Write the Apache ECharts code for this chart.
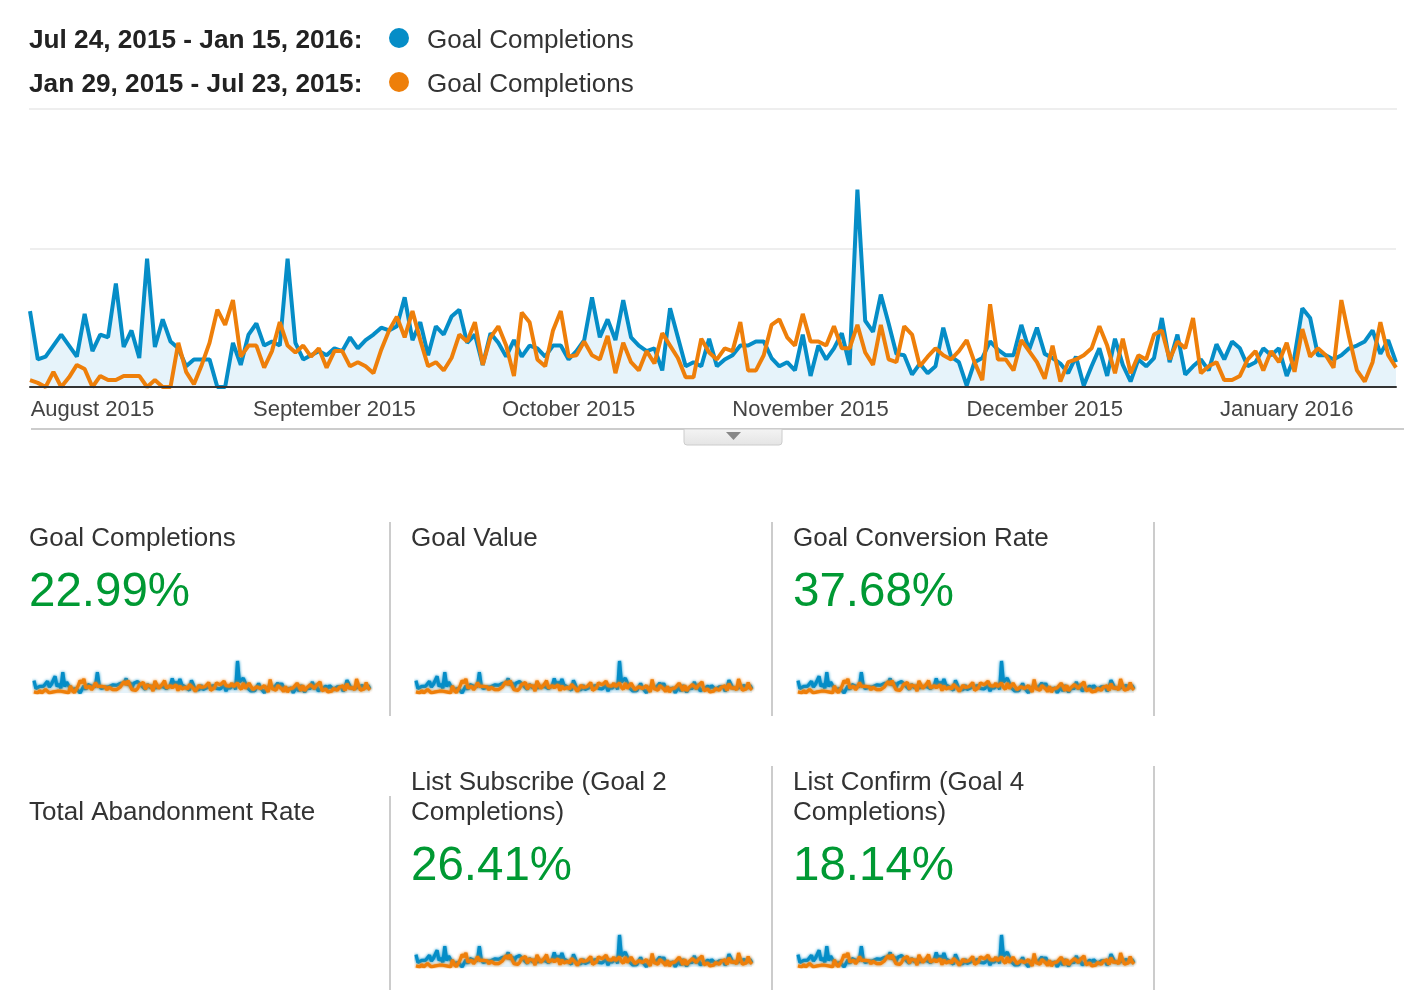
<!DOCTYPE html>
<html>
<head>
<meta charset="utf-8">
<title>Goal Completions</title>
<script src="https://cdn.jsdelivr.net/npm/echarts@6/dist/echarts.min.js"></script>
<style>
  html, body { margin: 0; padding: 0; background: #fff; }
  #chart { width: 1404px; height: 998px; }
</style>
</head>
<body>
<div id="chart"></div>
<script>
// daily values, Jul 24 2015 onwards
const current = [
  55, 20, 22, 30, 38, 30, 22, 53, 26, 38,
  36, 75, 29, 41, 21, 93, 29, 49, 33, 28,
  15, 20, 20, 20, 0, 0, 32, 16, 38, 46,
  30, 33, 30, 93, 32, 20, 23, 26, 23, 28,
  26, 36, 28, 34, 38, 43, 41, 44, 65, 34,
  47, 23, 44, 38, 51, 56, 32, 38, 16, 39,
  32, 22, 34, 22, 30, 28, 22, 30, 30, 20,
  26, 34, 65, 36, 49, 34, 63, 36, 30, 26,
  28, 12, 57, 36, 15, 18, 15, 35, 15, 20,
  23, 30, 30, 33, 33, 21, 15, 18, 12, 38,
  8, 30, 20, 28, 39, 16, 143, 48, 40, 67,
  46, 24, 23, 9, 17, 10, 15, 43, 22, 18,
  1, 18, 21, 33, 27, 23, 23, 45, 27, 43,
  24, 21, 17, 10, 22, 1, 15, 28, 8, 35,
  16, 4, 20, 15, 21, 50, 18, 38, 9, 15,
  20, 12, 31, 20, 33, 28, 15, 18, 28, 23,
  28, 8, 22, 57, 50, 23, 23, 20, 23, 28,
  30, 33, 41, 24, 34, 18
];
const previous = [
  5, 3, 0, 11, 0, 7, 16, 13, 0, 8,
  5, 5, 8, 8, 8, 0, 5, 0, 0, 32,
  11, 2, 16, 32, 56, 45, 63, 22, 30, 30,
  14, 26, 47, 30, 25, 30, 22, 28, 14, 26,
  26, 15, 18, 15, 10, 27, 41, 51, 36, 55,
  34, 15, 18, 12, 21, 38, 33, 47, 16, 36,
  44, 30, 8, 54, 47, 20, 15, 41, 55, 22,
  23, 33, 23, 20, 37, 10, 32, 18, 12, 26,
  17, 39, 30, 21, 7, 7, 35, 25, 20, 28,
  26, 47, 12, 12, 23, 45, 49, 36, 30, 53,
  33, 33, 30, 44, 28, 28, 45, 25, 16, 45,
  20, 18, 44, 38, 15, 22, 28, 23, 20, 26,
  34, 18, 5, 60, 20, 20, 12, 34, 26, 18,
  6, 30, 4, 18, 20, 23, 28, 44, 30, 10,
  35, 10, 23, 20, 38, 41, 20, 33, 28, 50,
  10, 15, 18, 5, 5, 8, 20, 26, 12, 26,
  18, 32, 11, 42, 22, 28, 23, 14, 63, 36,
  12, 4, 18, 47, 23, 14
];
const tickDays = [8, 39, 69, 100, 130, 161];
const tickLabels = ['August 2015', 'September 2015', 'October 2015', 'November 2015', 'December 2015', 'January 2016'];
const seriesNames = ['Jul 24, 2015 - Jan 15, 2016', 'Jan 29, 2015 - Jul 23, 2015'];
const metricNames = ['Goal Completions', 'Goal Value', 'Goal Conversion Rate', 'Total Abandonment Rate', 'List Subscribe (Goal 2\nCompletions)', 'List Confirm (Goal 4\nCompletions)'];
const metricValues = ['22.99%', '', '37.68%', '', '26.41%', '18.14%'];

const days = current.map(function (v, i) { return i; });

const BLUE = '#058dc7';
const ORANGE = '#ee7f0a';
const FONT = '"Liberation Sans", Arial, sans-serif';

const chart = echarts.init(document.getElementById('chart'));

// small helper so the many texts stay readable below
function text(str, x, y, size, color, weight) {
  return {
    text: str, left: x, top: y, padding: 0,
    textStyle: { fontFamily: FONT, fontSize: size, color: color, fontWeight: weight || 'normal', lineHeight: 30 }
  };
}

function rule(x1, y1, x2, y2, color) {
  return { type: 'line', silent: true, shape: { x1: x1, y1: y1, x2: x2, y2: y2 }, style: { stroke: color, lineWidth: 2 } };
}

const grids = [{ left: 30, top: 111, width: 1366, height: 276 }];
const xAxes = [{
  type: 'category', gridIndex: 0, data: days, boundaryGap: false, z: 5,
  axisLine: { lineStyle: { color: '#333', width: 2 } },
  axisTick: { show: false },
  axisLabel: {
    margin: 12, fontFamily: FONT, fontSize: 22, color: '#444', hideOverlap: false,
    interval: function (i) { return tickDays.indexOf(i) >= 0; },
    formatter: function (v, i) { return tickLabels[tickDays.indexOf(i)] || ''; }
  }
}];
const yAxes = [{
  type: 'value', gridIndex: 0, min: 0, max: 200, interval: 100,
  axisLine: { show: false }, axisTick: { show: false }, axisLabel: { show: false },
  splitLine: { showMinLine: false, showMaxLine: false, lineStyle: { color: '#eeeeee', width: 2 } }
}];

function lineSeries(idx, width, blur) {
  return [
    {
      name: seriesNames[0], type: 'line', data: current, xAxisIndex: idx, yAxisIndex: idx,
      showSymbol: false, lineStyle: { color: BLUE, width: width, shadowBlur: blur, shadowColor: BLUE }, itemStyle: { color: BLUE },
      areaStyle: { color: '#e6f3fa', opacity: 1 }, z: 2
    },
    {
      name: seriesNames[1], type: 'line', data: previous, xAxisIndex: idx, yAxisIndex: idx,
      showSymbol: false, lineStyle: { color: ORANGE, width: width, shadowBlur: blur, shadowColor: ORANGE }, itemStyle: { color: ORANGE }, z: 3
    }
  ];
}

let series = lineSeries(0, 4, 0);

// sparklines under the metric numbers
const sparks = [[34, 661], [416, 661], [798, 661], [416, 935], [798, 935]];
sparks.forEach(function (s, n) {
  const idx = n + 1;
  grids.push({ left: s[0], top: s[1], width: 336, height: 32 });
  xAxes.push({ type: 'category', gridIndex: idx, data: days, boundaryGap: false, show: false });
  yAxes.push({ type: 'value', gridIndex: idx, min: 0, max: 143, show: false });
  series = series.concat(lineSeries(idx, 3.2, 3));
});

// legend labels go through rich text, it lets the label sit a bit lower than the dot
function legendFor(name, y) {
  return {
    data: [name], left: 389, top: y, padding: 0, icon: 'circle', itemWidth: 20, itemHeight: 20, itemGap: 0,
    selectedMode: false, formatter: function () { return '{t|Goal Completions}'; },
    textStyle: {
      padding: [0, 0, 0, 13],
      rich: { t: { fontFamily: FONT, fontSize: 26, color: '#333', padding: [6, 0, 0, 0] } }
    }
  };
}

chart.setOption({
  animation: false,
  backgroundColor: '#fff',
  title: [
    text(seriesNames[0] + ':', 29, 26, 26.2, '#222', 'bold'),
    text(seriesNames[1] + ':', 29, 70, 26.2, '#222', 'bold'),
    text(metricNames[0], 29, 524, 26, '#333'),
    text(metricNames[1], 411, 524, 26, '#333'),
    text(metricNames[2], 793, 524, 26, '#333'),
    text(metricNames[3], 29, 798, 26, '#333'),
    text(metricNames[4], 411, 768, 26, '#333'),
    text(metricNames[5], 793, 768, 26, '#333'),
    text(metricValues[0], 29, 578, 47.5, '#009933'),
    text(metricValues[2], 793, 578, 47.5, '#009933'),
    text(metricValues[4], 411, 852, 47.5, '#009933'),
    text(metricValues[5], 793, 852, 47.5, '#009933')
  ],
  legend: [legendFor(seriesNames[0], 28), legendFor(seriesNames[1], 72)],
  grid: grids,
  xAxis: xAxes,
  yAxis: yAxes,
  series: series,
  graphic: [
    rule(29, 109, 1397, 109, '#eeeeee'),
    rule(31, 429, 1404, 429, '#cccccc'),
    rule(390, 522, 390, 716, '#cccccc'),
    rule(772, 522, 772, 716, '#cccccc'),
    rule(1154, 522, 1154, 716, '#cccccc'),
    rule(390, 796, 390, 990, '#cccccc'),
    rule(772, 766, 772, 990, '#cccccc'),
    rule(1154, 766, 1154, 990, '#cccccc'),
    {
      type: 'rect', silent: true, shape: { x: 684, y: 429, width: 98, height: 16, r: [0, 0, 3, 3] },
      style: {
        fill: new echarts.graphic.LinearGradient(0, 0, 0, 1, [{ offset: 0, color: '#f4f4f4' }, { offset: 1, color: '#e4e4e4' }]),
        stroke: '#cccccc', lineWidth: 1
      }
    },
    { type: 'polygon', silent: true, shape: { points: [[726, 432], [741, 432], [733.5, 440]] }, style: { fill: '#888888' } }
  ]
});
</script>
</body>
</html>
